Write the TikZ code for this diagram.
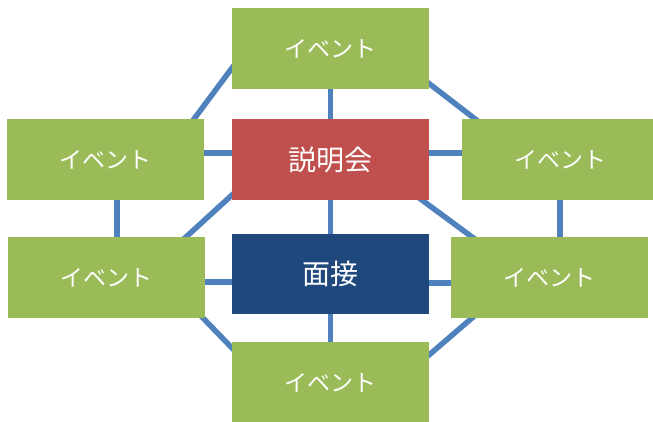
\documentclass[tikz,border=0pt]{standalone}
\usepackage{fontspec}
\newfontfamily\jp{Noto Sans CJK JP}
\usetikzlibrary{calc}
\definecolor{evgreen}{HTML}{9BBB59}
\definecolor{sred}{HTML}{C0504D}
\definecolor{sblue}{HTML}{1F497D}
\definecolor{linkblue}{HTML}{4F81BD}
\pgfdeclarelayer{background}
\pgfsetlayers{background,main}
\tikzset{
  box/.style={rectangle, draw=none, minimum width=197pt, minimum height=81pt, inner sep=0pt, text=white},
  evbox/.style={box, fill=evgreen, font=\jp\fontsize{23}{27}\selectfont},
  mainbox/.style={box, font=\jp\fontsize{28}{33}\selectfont},
  link/.style={draw=linkblue, line width=5.5pt}
}
\begin{document}
\begin{tikzpicture}[x=1pt,y=-1pt]
\useasboundingbox (0,0) rectangle (653,421);
\clip (0,0) rectangle (653,421);
\node[evbox] (top) at (330.5,48.5) {イベント};
\node[evbox] (L1) at (105.5,159.5) {イベント};
\node[mainbox, fill=sred] (red) at (330.5,159.5) {説明会};
\node[evbox] (R1) at (560.5,159.5) {イベント};
\node[evbox] (L2) at (106.5,277.5) {イベント};
\node[mainbox, fill=sblue, minimum height=80pt] (blue) at (330.5,274) {面接};
\node[evbox] (R2) at (549.5,277.5) {イベント};
\node[evbox] (bot) at (330.5,382.5) {イベント};
\begin{pgfonlayer}{background}
  % vertical centre links
  \draw[link] (top.center) -- (red.center);
  \draw[link] (red.center) -- (blue.center);
  \draw[link] (blue.center) -- (bot.center);
  % horizontal links
  \draw[link] ([yshift=6.5pt]L1.center) -- ([yshift=6.5pt]red.center);
  \draw[link] ([yshift=6.5pt]red.center) -- ([yshift=6.5pt]R1.center);
  \draw[link] ([yshift=-4.5pt]L2.center) -- ([yshift=-4.5pt]L2.center -| blue.center);
  \draw[link] ([yshift=-5.5pt]R2.center) -- ([yshift=-5.5pt]R2.center -| blue.center);
  % vertical outer links
  \draw[link] ([xshift=11.5pt]L1.center) -- ([xshift=11.5pt]L1.center |- L2.center);
  \draw[link] ([xshift=-0.5pt]R1.center) -- ([xshift=-0.5pt]R1.center |- R2.center);
  % diagonal links
  \draw[link] ($(top.center)+(-88.5,6.1)$) -- ($(L1.center)+(80,-29.1)$);
  \draw[link] ($(top.center)+(88.5,27.3)$) -- ($(R1.center)+(-71.1,-29.5)$);
  \draw[link] ($(red.center)+(-88.5,26.4)$) -- ($(L2.center)+(69.5,-31.4)$);
  \draw[link] ($(red.center)+(79.5,31.7)$) -- ($(R2.center)+(-64.5,-30.9)$);
  \draw[link] ($(L2.center)+(86.5,30.2)$) -- ($(bot.center)+(-88.5,-24.2)$);
  \draw[link] ($(bot.center)+(88.5,-18.9)$) -- ($(R2.center)+(-67.5,31.9)$);
\end{pgfonlayer}
\end{tikzpicture}
\end{document}
